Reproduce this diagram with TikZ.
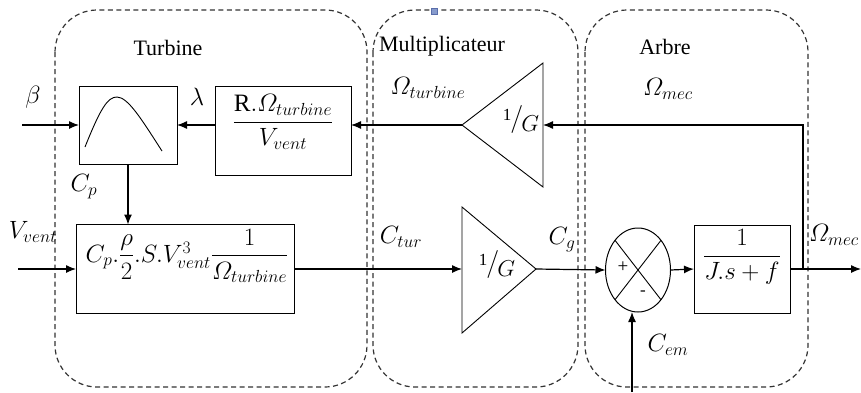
\documentclass[tikz,border=0pt]{standalone}
\usepackage{fix-cm}
\usepackage{amsmath}
\usepackage{fontspec}
\setmainfont{Liberation Serif}
\newfontfamily\lserif{Liberation Serif}
\usetikzlibrary{arrows.meta,shapes.geometric}
\newcommand{\invG}{{\fontsize{17}{17}\selectfont\raisebox{6pt}{1}}\kern-1pt{\fontsize{28}{28}\selectfont$/$}\kern-2pt\raisebox{-5pt}{\fontsize{23}{23}\selectfont$G$}}
\begin{document}
\begin{tikzpicture}[x=1pt,y=-1pt,
  every node/.style={font=\lserif\fontsize{22}{26}\selectfont},
  mth/.style={inner sep=0pt, font=\lserif\fontsize{25}{29}\selectfont},
  region/.style={draw=black!80, dash pattern=on 5pt off 3.5pt, line width=1.2pt, rounded corners=42pt},
  blk/.style={draw, line width=1pt, inner sep=0pt, outer sep=0pt},
  sig/.style={line width=1.2pt, -{Latex[length=10pt,width=8pt]}},
  shp/.style={line width=0.9pt},
  lbl/.style={inner sep=0pt}]
\useasboundingbox (0,0) rectangle (861,392);

% dashed regions
\draw[region] (55,10) rectangle (367,387);
\draw[region] (373,10) rectangle (578,387);
\draw[region] (585,10) rectangle (808,387);
\filldraw[fill={rgb,255:red,135;green,155;blue,205}, draw={rgb,255:red,90;green,110;blue,170}, line width=0.5pt] (431,8) rectangle (437,14);

% region titles
\node[lbl] (tturb) at (168,48) {Turbine};
\node[lbl] (tmult) at (442,46) {Multiplicateur};
\node[lbl] (tarb) at (665,47) {Arbre};

% blocks
\node[blk, minimum width=98pt, minimum height=78pt] (cpbox) at (128,125) {};
\draw[shp] (85,147) .. controls (101,107) and (108,97) .. (117,97) .. controls (128,97) and (142,120) .. (162,151);

\node[blk, minimum width=136pt, minimum height=89pt] (rbox) at (283,130.5) {};
\node[mth] (rtxt) at (283,122) {$\dfrac{\mathrm{R}.\varOmega_{turbine}}{V_{vent}}$};

\node[blk, minimum width=218pt, minimum height=89pt] (fbox) at (185,269) {};
\node[mth] (ftxt) at (187,256) {$C_{p}.\dfrac{\rho}{2}.S.V_{vent}^{3}\dfrac{1}{\varOmega_{turbine}}$};

\node[blk, minimum width=96pt, minimum height=88pt] (jsbox) at (742,269) {};
\node[mth] (jstxt) at (742,257) {$\dfrac{1}{J.s+f}$};

% triangles
\coordinate (t1tip) at (462,125);
\coordinate (t1base) at (543,125);
\draw[shp] (t1tip) -- (543,63) -- (543,187) -- cycle;
\node[lbl] (t1txt) at (521,119) {\invG};

\coordinate (t2base) at (462,269);
\coordinate (t2tip) at (536,269);
\draw[shp] (t2tip) -- (462,207) -- (462,333) -- cycle;
\node[lbl] (t2txt) at (497,264) {\invG};

% summer
\node[draw, ellipse, line width=1pt, minimum width=65pt, minimum height=84pt, inner sep=0pt, outer sep=0pt] (sum) at (638,270) {};
\draw[shp] (sum.north west) -- (sum.south east);
\draw[shp] (sum.north east) -- (sum.south west);
\node[lbl, font=\lserif\fontsize{19}{19}\selectfont] (plus) at (623,267) {+};
\node[lbl, font=\lserif\fontsize{17}{17}\selectfont] (minus) at (643,293) {-};

% signal labels
\node[mth] (lbeta) at (33,97) {$\beta$};
\node[mth] (llam) at (197,97) {$\lambda$};
\node[mth] (lomt) at (428,88) {$\varOmega_{turbine}$};
\node[mth] (lomm) at (668,89) {$\varOmega_{mec}$};
\node[mth] (lcp) at (84,187) {$C_{p}$};
\node[mth] (lvv) at (33,232) {$V_{vent}$};
\node[mth] (lctur) at (401,237) {$C_{tur}$};
\node[mth] (lcg) at (562,240) {$C_{g}$};
\node[mth] (lomr) at (834,235) {$\varOmega_{mec}$};
\node[mth] (lcem) at (668,345) {$C_{em}$};

% connectors
\coordinate (bin) at (22,125);
\coordinate (vin) at (18,269);
\coordinate (br) at (803,269);
\coordinate (out) at (861,269);
\coordinate (cemin) at (632,392);

\draw[sig] (bin) -- (cpbox.west);
\draw[sig] ([yshift=5.5pt]rbox.west) -- (cpbox.east);
\draw[sig] (t1tip) -- ([yshift=5.5pt]rbox.east);
\draw[sig] (br) |- (t1base);
\draw[sig] (cpbox.south) -- (cpbox.south |- fbox.north);
\draw[sig] (vin) -- (fbox.west);
\draw[sig] (fbox.east) -- (t2base);
\draw[sig] (t2tip) -- (sum.west);
\draw[sig] (sum.east) -- (jsbox.west);
\draw[sig] (jsbox.east) -- (out);
\draw[sig] (cemin) -- (cemin |- sum.south);
\end{tikzpicture}
\end{document}
